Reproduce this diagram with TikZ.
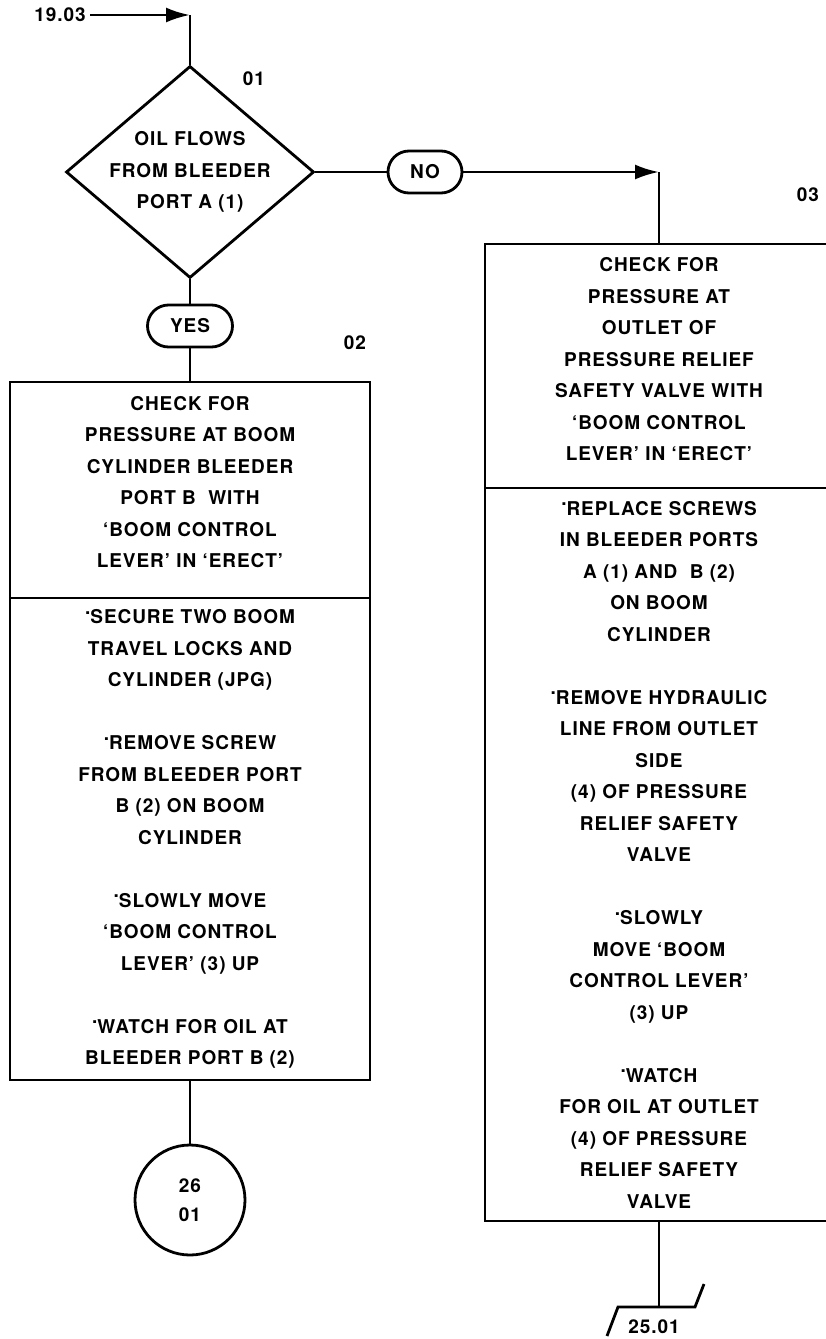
\documentclass[tikz,border=0pt]{standalone}
\usepackage{fontspec}
\setmainfont{TeX Gyre Heros}[LetterSpace=5]
\usepackage{tikz}
\usetikzlibrary{arrows.meta,shapes.geometric,shapes.misc}
\newcommand{\itemdot}{\raisebox{0.5em}{.}}

\begin{document}
\begin{tikzpicture}[x=1pt,y=-1pt,
    every node/.style={font=\fontsize{19}{31.5}\selectfont\bfseries},
    flow/.style={line width=2.8pt},
    arrowline/.style={flow,-{Latex[length=24pt,width=15pt]}},
    stepbox/.style={draw,line width=2.8pt,align=center,inner sep=0pt,outer sep=0pt},
    decision/.style={draw,diamond,line width=2.8pt,minimum width=248pt,minimum height=212pt,inner sep=-14pt,align=center},
    answer/.style={draw,rounded rectangle,line width=2.8pt,minimum height=42pt,inner sep=0pt},
    connector/.style={draw,circle,line width=2.8pt,minimum size=110pt,inner sep=0pt,align=center,
      font=\fontsize{19}{29}\selectfont\bfseries},
    lbl/.style={inner sep=4pt}]
      \useasboundingbox (0,0) rectangle (826,1339);
      \node[lbl] (src) at (60,15) {19.03};
      \coordinate (cA) at (190,15);
      \node[decision] (q1) at (190,172) {OIL FLOWS\\FROM BLEEDER\\PORT A (1)};
      \node[lbl] (n01) at (254,79) {01};
      \node[answer,minimum width=85pt] (yes) at (190,326) {YES};
      \node[answer,minimum width=74pt] (no) at (425,172) {NO};
      \node[lbl] (n02) at (355,343) {02};
      \node[stepbox,minimum width=360pt,minimum height=216pt,text depth=16pt] (chk2) at (190,490)
        {CHECK FOR\\PRESSURE AT BOOM\\CYLINDER BLEEDER\\PORT B~ WITH\\‘BOOM CONTROL\\LEVER’ IN ‘ERECT’};
      \node[stepbox,minimum width=360pt,minimum height=482pt,anchor=north] (act2) at (chk2.south)
        {\itemdot SECURE TWO BOOM\\TRAVEL LOCKS AND\\CYLINDER (JPG)\\~\\
         \itemdot REMOVE SCREW\\FROM BLEEDER PORT\\B (2) ON BOOM\\CYLINDER\\~\\
         \itemdot SLOWLY MOVE\\‘BOOM CONTROL\\LEVER’ (3) UP\\~\\
         \itemdot WATCH FOR OIL AT\\BLEEDER PORT B (2)};
      \node[connector] (out26) at (190,1200) {26\\01};
      \coordinate (cB) at (659,172);
      \node[lbl] (n03) at (808,195) {03};
      \node[stepbox,minimum width=348pt,minimum height=244pt,text depth=14pt] (chk3) at (659,366)
        {CHECK FOR\\PRESSURE AT\\OUTLET OF\\PRESSURE RELIEF\\SAFETY VALVE WITH\\‘BOOM CONTROL\\LEVER’ IN ‘ERECT’};
      \node[stepbox,minimum width=348pt,minimum height=733pt,anchor=north] (act3) at (chk3.south)
        {\itemdot REPLACE SCREWS\\IN BLEEDER PORTS\\A (1) AND~ B (2)\\ON BOOM\\CYLINDER\\~\\
         \itemdot REMOVE HYDRAULIC\\LINE FROM OUTLET\\SIDE\\(4) OF PRESSURE\\RELIEF SAFETY\\VALVE\\~\\
         \itemdot SLOWLY\\MOVE ‘BOOM\\CONTROL LEVER’\\(3) UP\\~\\
         \itemdot WATCH\\FOR OIL AT OUTLET\\(4) OF PRESSURE\\RELIEF SAFETY\\VALVE};
      \coordinate (ofl) at (659,1307);
      \node[lbl] (dst) at (654,1327) {25.01};
      \draw[arrowline] (src.east) -- (cA);
      \draw[flow] (cA) -- (q1.north);
      \draw[flow] (q1.south) -- (yes.north);
      \draw[flow] (yes.south) -- (chk2.north);
      \draw[flow] (act2.south) -- (out26.north);
      \draw[flow] (q1.east) -- (no.west);
      \draw[arrowline] (no.east) -- (cB);
      \draw[flow] (cB) -- (chk3.north);
      \draw[flow] (act3.south) -- (ofl);
      \draw[flow] (ofl) ++(-52,29) -- ++(11,-29) -- ++(77,0) -- ++(9,-23);
    \end{tikzpicture}
\end{document}
